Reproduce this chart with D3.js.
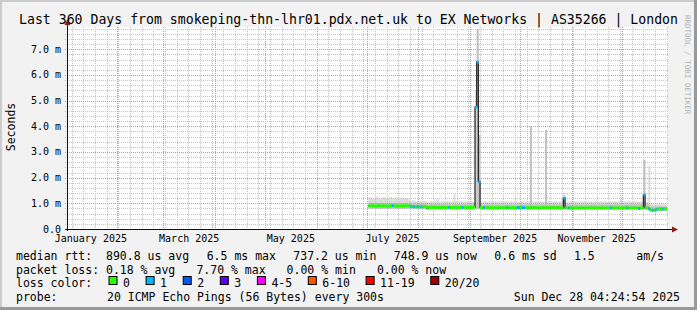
<!DOCTYPE html>
<html>
<head>
<meta charset="utf-8">
<script src="https://cdnjs.cloudflare.com/ajax/libs/d3/7.8.5/d3.min.js"></script>
<style>
  body { margin: 0; background: #f2f2f2; }
  text { font-family: "DejaVu Sans Mono", monospace; fill: #000; }
</style>
</head>
<body>
<div id="chart"></div>
<script>
// ---- data (values in ms, one sample per day, day-of-year 2025) ----
var firstDay = 182;   // 2025-07-02

var median = [
  0.90,0.91,0.90,0.90,0.89,0.90,0.91,0.90,0.90,0.90,
  0.90,0.89,0.90,0.90,0.91,0.90,0.90,0.89,0.90,0.90,
  0.90,0.90,0.91,0.90,0.90,0.88,0.87,0.87,0.86,0.87,
  0.87,0.86,0.87,0.87,0.86,0.81,0.84,0.84,0.84,0.84,
  0.84,0.84,0.84,0.83,0.84,0.84,0.84,0.84,0.84,0.84,
  0.84,0.84,0.83,0.84,0.84,0.84,0.84,0.84,0.84,0.84,
  0.84,0.84,0.84,0.84,4.75,6.50,1.84,0.83,0.83,0.83,
  0.83,0.83,0.83,0.83,0.83,0.83,0.83,0.82,0.83,0.83,
  0.83,0.83,0.83,0.83,0.83,0.82,0.83,0.83,0.83,0.83,
  0.83,0.83,0.83,0.83,0.83,0.83,0.83,0.83,0.83,0.83,
  0.83,0.83,0.82,0.83,0.83,0.83,0.83,0.83,0.83,0.83,
  0.83,0.83,0.83,0.83,0.83,0.82,0.82,1.20,0.82,0.82,
  0.82,0.82,0.82,0.82,0.82,0.82,0.82,0.82,0.82,0.82,
  0.82,0.82,0.82,0.82,0.82,0.82,0.82,0.82,0.82,0.82,
  0.82,0.82,0.82,0.82,0.82,0.82,0.82,0.82,0.82,0.82,
  0.82,0.82,0.82,0.82,0.82,0.82,0.82,0.82,0.82,0.82,
  0.82,0.82,0.80,0.82,0.82,1.33,0.82,0.82,0.78,0.74,
  0.73,0.73,0.75,0.78,0.79,0.78,0.78,0.79,0.78
];

var smokeLow = [
  0.79,0.79,0.79,0.79,0.79,0.79,0.79,0.79,0.79,0.79,
  0.79,0.79,0.79,0.79,0.79,0.79,0.79,0.79,0.79,0.79,
  0.79,0.79,0.79,0.79,0.79,0.79,0.79,0.79,0.79,0.79,
  0.79,0.79,0.79,0.79,0.79,0.77,0.77,0.77,0.77,0.77,
  0.77,0.77,0.77,0.77,0.77,0.77,0.77,0.77,0.77,0.77,
  0.77,0.77,0.77,0.77,0.77,0.77,0.77,0.77,0.77,0.77,
  0.77,0.77,0.77,0.77,0.77,0.77,0.77,0.77,0.77,0.77,
  0.77,0.77,0.77,0.77,0.77,0.77,0.77,0.77,0.77,0.77,
  0.77,0.77,0.77,0.77,0.77,0.77,0.77,0.77,0.77,0.77,
  0.77,0.77,0.77,0.77,0.77,0.77,0.77,0.77,0.77,0.77,
  0.77,0.77,0.77,0.77,0.77,0.77,0.77,0.77,0.77,0.77,
  0.77,0.77,0.77,0.77,0.77,0.77,0.77,0.77,0.77,0.77,
  0.77,0.77,0.77,0.77,0.77,0.77,0.77,0.77,0.77,0.77,
  0.77,0.77,0.77,0.77,0.77,0.77,0.77,0.77,0.77,0.77,
  0.77,0.77,0.77,0.77,0.77,0.77,0.77,0.77,0.77,0.77,
  0.77,0.77,0.77,0.77,0.77,0.77,0.77,0.77,0.77,0.77,
  0.77,0.77,0.77,0.77,0.77,0.77,0.77,0.77,0.77,0.70,
  0.70,0.70,0.70,0.70,0.70,0.70,0.70,0.70,0.70
];

var smokeMid = [
  1.02,1.02,1.02,1.02,1.02,1.02,1.02,1.02,1.02,1.02,
  1.02,1.02,1.02,1.02,1.02,1.02,1.02,1.02,1.02,1.02,
  1.02,1.02,1.02,1.02,1.02,0.99,0.99,0.99,0.99,0.99,
  0.99,0.99,0.99,0.99,0.99,0.97,0.97,0.97,0.97,0.97,
  0.97,0.97,0.97,0.97,0.97,0.97,0.97,0.97,0.97,0.97,
  0.97,0.97,0.97,0.97,0.97,0.97,0.97,0.97,0.97,0.97,
  0.97,0.97,0.97,0.97,0.97,7.80,3.66,0.96,0.96,0.96,
  0.96,0.96,0.96,0.96,0.96,0.96,0.96,0.96,0.96,0.96,
  0.96,0.96,0.96,0.96,0.96,0.96,0.96,0.96,0.96,0.96,
  0.96,0.96,0.96,0.96,0.96,0.96,0.96,4.00,0.96,0.96,
  0.96,0.96,0.96,0.96,0.96,0.96,3.85,0.96,0.96,0.96,
  0.96,0.96,0.96,0.96,0.96,0.96,0.96,1.25,0.96,0.96,
  0.96,0.96,0.96,0.96,0.96,0.96,0.96,0.96,0.96,0.96,
  0.96,0.96,0.96,0.96,0.96,0.96,0.96,0.96,0.96,0.96,
  0.96,0.96,0.96,0.96,0.96,0.96,0.96,0.96,0.96,0.96,
  0.96,0.96,0.96,0.96,0.96,0.96,0.96,0.96,0.96,0.96,
  0.96,0.96,0.96,0.96,0.96,2.69,0.96,0.96,0.96,0.88,
  0.88,0.88,0.88,0.88,0.88,0.88,0.88,0.88,0.88
];

var smokeHigh = [
  1.22,1.25,1.20,1.18,1.24,1.27,1.21,1.19,1.23,1.26,
  1.20,1.18,1.22,1.25,1.21,1.19,1.24,1.22,1.18,1.20,
  1.23,1.21,1.19,1.17,1.15,1.10,1.08,1.12,1.07,1.09,
  1.08,1.10,1.07,1.09,1.08,1.05,1.06,1.08,1.07,1.06,
  1.08,1.17,1.07,1.06,1.08,1.07,1.06,1.09,1.07,1.06,
  1.08,1.36,1.10,1.07,1.06,1.08,1.07,1.06,1.08,1.07,
  1.06,1.08,1.07,1.06,5.40,7.80,3.66,1.07,1.06,1.08,
  1.07,1.06,1.08,1.07,1.06,1.08,1.07,1.06,1.07,1.08,
  1.06,1.07,1.08,1.06,1.07,1.08,1.06,1.07,1.08,1.06,
  1.07,1.06,1.08,1.07,1.06,1.07,1.08,4.00,1.06,1.07,
  1.08,1.06,1.07,1.08,1.06,1.07,3.85,1.06,1.08,1.07,
  1.06,1.07,1.08,1.06,1.07,1.08,1.10,1.40,1.07,1.06,
  1.08,1.07,1.06,1.08,1.07,1.06,1.07,1.08,1.06,1.07,
  1.08,1.06,1.07,1.08,1.06,1.07,1.08,1.06,1.07,1.08,
  1.06,1.07,1.08,1.06,1.07,1.08,1.06,1.07,1.08,1.06,
  1.07,1.13,1.06,1.08,1.07,1.06,1.08,1.07,1.06,1.07,
  1.08,1.06,1.07,1.08,1.06,2.69,1.07,1.06,2.45,0.98,
  0.96,0.97,0.95,0.98,0.96,0.97,0.95,0.96,0.97
];

// days where 1 of 20 pings was lost (everything else 0)
var lossDays = [196, 207, 209, 211, 213, 230, 238, 246, 247, 248, 251, 265,
                271, 272, 274, 275, 299, 302, 327, 337, 344, 347, 350, 352, 354, 358];

var yTicks = [0, 1, 2, 3, 4, 5, 6, 7];
var yTickLabels = ["0.0", "1.0 m", "2.0 m", "3.0 m", "4.0 m", "5.0 m", "6.0 m", "7.0 m"];

var lossNames  = ["0", "1", "2", "3", "4-5", "6-10", "11-19", "20/20"];
var lossColors = ["#26ff00", "#00b8ff", "#0059ff", "#5e00ff", "#ff00ff", "#ff5500", "#ff0000", "#a10000"];

var titleText = "Last 360 Days from smokeping-thn-lhr01.pdx.net.uk to EX Networks | AS35266 | London";
var legendRows = [
  [[16, "median rtt:  890.8 us avg"], [206.7, "6.5 ms max"], [293.3, "737.2 us min"],
   [393.8, "748.9 us now"], [494.3, "0.6 ms sd"], [574, "1.5      am/s"]],
  [[16, "packet loss: 0.18 % avg"], [196.4, "7.70 % max"], [286.6, "0.00 % min"], [376.9, "0.00 % now"]],
  [[16, "loss color:"]],
  [[16, "probe:"], [107, "20 ICMP Echo Pings (56 Bytes) every 300s"]]
];
var stampText = "Sun Dec 28 04:24:54 2025";

// ---- chart ----
var W = 697, H = 310;
var svg = d3.select("#chart").append("svg")
    .attr("width", W)
    .attr("height", H);

var x = d3.scaleTime()
    .domain([new Date(2025, 0, 2, 4, 24, 54), new Date(2025, 11, 28, 4, 24, 54)])
    .range([67, 667]);
var y = d3.scaleLinear()
    .domain([0, 7.87])
    .range([229, 27]);

function dayDate(d) { return d3.timeDay.offset(new Date(2025, 0, 1), d); }

// background + frame
svg.append("rect").attr("width", W).attr("height", H).attr("fill", "#f2f2f2");
svg.append("rect").attr("x", 0).attr("y", 0).attr("width", W).attr("height", 2).attr("fill", "#cbcbcb");
svg.append("rect").attr("x", 0).attr("y", 0).attr("width", 2).attr("height", H).attr("fill", "#cbcbcb");
svg.append("rect").attr("x", W - 3).attr("y", 0).attr("width", 3).attr("height", H).attr("fill", "#999");
svg.append("rect").attr("x", 0).attr("y", H - 3).attr("width", W).attr("height", 3).attr("fill", "#999");

// canvas
svg.append("rect")
    .attr("x", 67).attr("y", 27)
    .attr("width", 601).attr("height", 202)
    .attr("fill", "#fff");

var samples = median.map(function(m, i) {
  var d = firstDay + i;
  return {
    x0: x(dayDate(d)), x1: x(dayDate(d + 1)),
    med: m, lo: smokeLow[i], mid: smokeMid[i], hi: smokeHigh[i],
    loss: lossDays.indexOf(d) >= 0 ? 1 : 0
  };
});

// smoke
var smoke = svg.append("g");
smoke.selectAll("rect.hi").data(samples).enter().append("rect")
    .attr("x", function(d) { return d.x0; })
    .attr("width", function(d) { return d.x1 - d.x0 + 0.3; })
    .attr("y", function(d) { return y(d.hi); })
    .attr("height", function(d) { return y(d.lo) - y(d.hi); })
    .attr("fill", "#dcdcdc");
smoke.selectAll("rect.mid").data(samples).enter().append("rect")
    .attr("x", function(d) { return d.x0; })
    .attr("width", function(d) { return d.x1 - d.x0 + 0.3; })
    .attr("y", function(d) { return y(d.mid); })
    .attr("height", function(d) { return y(d.lo) - y(d.mid); })
    .attr("fill", "#c2c2c2");

// grid
var grid = svg.append("g").attr("stroke-dasharray", "1,1").attr("shape-rendering", "crispEdges");
var minorY = d3.range(1, 40).filter(function(i) { return i % 5; }).map(function(i) { return i * 0.2; });
grid.selectAll("line.my").data(minorY).enter().append("line")
    .attr("x1", 65).attr("x2", 668)
    .attr("y1", function(d) { return Math.round(y(d)) + 0.5; })
    .attr("y2", function(d) { return Math.round(y(d)) + 0.5; })
    .attr("stroke", "#c4c4c4");
grid.selectAll("line.mx").data(d3.timeWeek.range(x.domain()[0], x.domain()[1])).enter().append("line")
    .attr("x1", function(d) { return Math.round(x(d)) + 0.5; })
    .attr("x2", function(d) { return Math.round(x(d)) + 0.5; })
    .attr("y1", 27).attr("y2", 231)
    .attr("stroke", "#c4c4c4");
grid.selectAll("line.My").data(yTicks.slice(1)).enter().append("line")
    .attr("x1", 65).attr("x2", 668)
    .attr("y1", function(d) { return Math.round(y(d)) + 0.5; })
    .attr("y2", function(d) { return Math.round(y(d)) + 0.5; })
    .attr("stroke", "#e58c8c");
grid.selectAll("line.Mx").data(d3.timeMonth.range(x.domain()[0], x.domain()[1])).enter().append("line")
    .attr("x1", function(d) { return Math.round(x(d)) + 0.5; })
    .attr("x2", function(d) { return Math.round(x(d)) + 0.5; })
    .attr("y1", 27).attr("y2", 231)
    .attr("stroke", "#e58c8c");

// median: thin dark line, then loss coloured band
var pts = [];
samples.forEach(function(d) { pts.push([d.x0, y(d.med)]); });
pts.push([samples[samples.length - 1].x1, y(median[median.length - 1])]);
svg.append("path")
    .attr("d", d3.line().curve(d3.curveStepAfter)(pts))
    .attr("fill", "none")
    .attr("stroke", "#202020")
    .attr("stroke-width", 1.2);
svg.append("g").selectAll("rect").data(samples).enter().append("rect")
    .attr("x", function(d) { return d.x0; })
    .attr("width", function(d) { return d.x1 - d.x0 + 0.3; })
    .attr("y", function(d) { return y(d.med) - 1.5; })
    .attr("height", 3)
    .attr("fill", function(d) { return lossColors[d.loss]; });

// axes
var axisColor = "#101010", arrowColor = "#8f1a1a";
svg.append("line").attr("x1", 67.5).attr("x2", 67.5).attr("y1", 231).attr("y2", 24)
    .attr("stroke", axisColor);
svg.append("line").attr("x1", 65).attr("x2", 673).attr("y1", 229.5).attr("y2", 229.5)
    .attr("stroke", axisColor);
svg.append("path").attr("d", "M64.5,25 L70.5,25 L67.5,19 Z").attr("fill", arrowColor);
svg.append("path").attr("d", "M672,226.5 L672,232.5 L678,229.5 Z").attr("fill", arrowColor);

svg.append("g").selectAll("text").data(yTicks).enter().append("text")
    .attr("x", 61)
    .attr("y", function(d) { return y(d); })
    .attr("dy", "0.35em")
    .attr("text-anchor", "end")
    .style("font-size", "10px")
    .text(function(d, i) { return yTickLabels[i]; });

var months = d3.timeMonth.range(new Date(2025, 0, 1), new Date(2025, 11, 1), 2);
svg.append("g").selectAll("text").data(months).enter().append("text")
    .attr("x", function(d) { return (x(d) + x(d3.timeMonth.offset(d, 1))) / 2; })
    .attr("y", 241.5)
    .attr("text-anchor", "middle")
    .style("font-size", "10px")
    .text(function(d) { return d3.timeFormat("%B %Y")(d); });

svg.append("text")
    .attr("transform", "translate(15,127) rotate(-90)")
    .attr("text-anchor", "middle")
    .style("font-size", "11.5px")
    .text("Seconds");

svg.append("text")
    .attr("x", W / 2).attr("y", 24)
    .attr("text-anchor", "middle")
    .style("font-size", "13.2px")
    .text(titleText);

svg.append("text")
    .attr("transform", "translate(685,15) rotate(90)")
    .style("font-size", "7.5px")
    .style("fill", "#b4b4b4")
    .text("RRDTOOL / TOBI OETIKER");

// legend
var rowY = [260, 273.5, 287, 300.5];
legendRows.forEach(function(row, r) {
  svg.append("g").selectAll("text").data(row).enter().append("text")
      .attr("x", function(d) { return d[0]; })
      .attr("y", rowY[r])
      .attr("xml:space", "preserve")
      .style("white-space", "pre")
      .style("font-size", "11.5px")
      .text(function(d) { return d[1]; });
});
svg.append("text")
    .attr("x", 680).attr("y", rowY[3])
    .attr("text-anchor", "end")
    .style("font-size", "11.5px")
    .text(stampText);

var lx = 108.5;
lossNames.forEach(function(name, i) {
  svg.append("rect")
      .attr("x", lx + 0.5).attr("y", 276.5)
      .attr("width", 8).attr("height", 8)
      .attr("fill", lossColors[i])
      .attr("stroke", "#000");
  svg.append("text")
      .attr("x", lx + 14.5).attr("y", rowY[2])
      .style("font-size", "11.5px")
      .text(name);
  lx += 30.2 + name.length * 6.9;
});
</script>
</body>
</html>
